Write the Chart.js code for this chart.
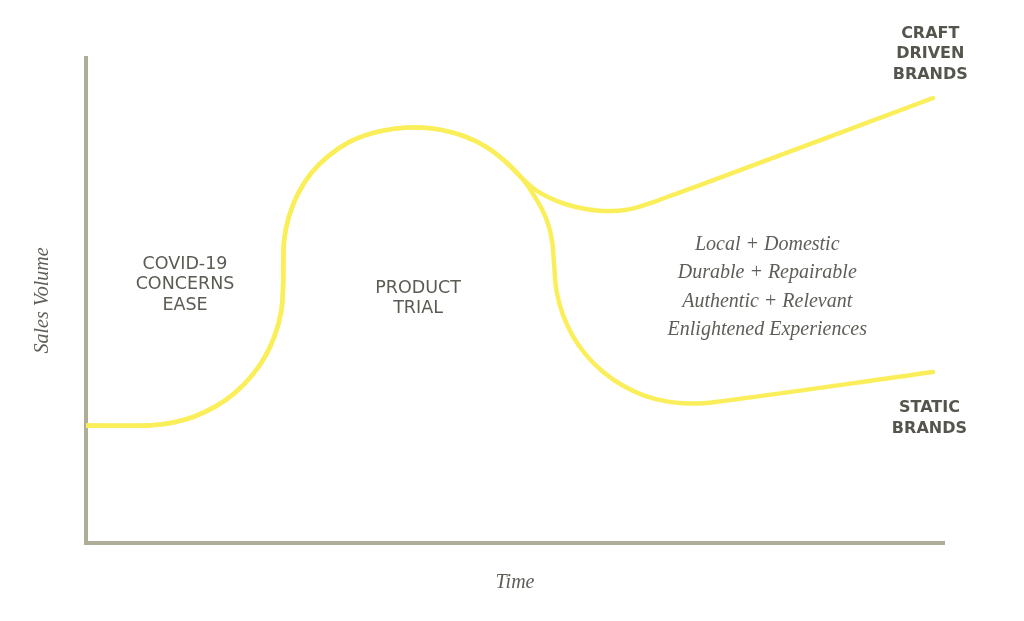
<!DOCTYPE html>
<html><head><meta charset="utf-8">
<script src="https://cdn.jsdelivr.net/npm/chart.js@4.4.1/dist/chart.umd.min.js"></script>
<style>html,body{margin:0;padding:0;background:#fff}#wrap{width:1024px;height:621px;position:relative}</style>
</head><body><div id="wrap"><canvas id="c"></canvas></div>
<script>
// Shared path: flat baseline, COVID-19 concerns ease, product-trial peak
const sharedTime   = [0, 7.11, 9.86, 12.53, 15.03, 17.30, 19.25, 20.84, 22.00, 22.73, 22.96, 23.0, 23.09, 23.65, 24.69, 26.22, 28.25, 30.62, 33.28, 36.03, 38.81, 41.56, 44.21, 46.68, 48.85, 50.77];
const sharedVolume = [24.23, 24.23, 24.76, 26.02, 28.08, 30.89, 34.35, 38.35, 42.78, 47.51, 52.37, 57.53, 62.43, 67.30, 71.96, 76.21, 79.79, 82.62, 84.45, 85.44, 85.67, 85.13, 83.77, 81.63, 78.70, 75.28];
// Craft driven brands branch
const craftTime    = [52.33, 54.08, 55.83, 57.93, 59.56, 61.07, 62.82, 64.57, 66.32, 67.72, 71.56, 98.72];
const craftVolume  = [72.89, 71.13, 69.90, 68.97, 68.56, 68.45, 68.66, 69.38, 70.41, 71.34, 73.81, 91.75];
// Static brands branch
const staticTime   = [52.33, 53.60, 54.31, 54.55, 54.85, 55.56, 56.72, 58.30, 60.24, 62.50, 65.00, 67.66, 70.40, 72.96, 98.72];
const staticVolume = [71.34, 67.05, 62.35, 57.53, 51.86, 47.15, 42.72, 38.74, 35.30, 32.52, 30.45, 29.20, 28.76, 28.97, 35.26];

// Text
const phaseCovid   = ['COVID-19', 'CONCERNS', 'EASE'];
const phaseTrial   = ['PRODUCT', 'TRIAL'];
const craftLabel   = ['CRAFT', 'DRIVEN', 'BRANDS'];
const staticLabel  = ['STATIC', 'BRANDS'];
const craftTraits  = ['Local + Domestic', 'Durable + Repairable', 'Authentic + Relevant', 'Enlightened Experiences'];
const xTitle = 'Time';
const yTitle = 'Sales Volume';

const toPoints = (xs, ys) => xs.map((v, i) => ({x: v, y: ys[i]}));
const craftData  = toPoints(sharedTime.concat(craftTime),  sharedVolume.concat(craftVolume));
const staticData = toPoints(sharedTime.concat(staticTime), sharedVolume.concat(staticVolume));

const YELLOW = '#faef5a';
const AXIS = '#afac97';
const SANS = "'DejaVu Sans', sans-serif";

const labelPlugin = {
  id: 'textLabels',
  afterDraw(chart, args, opts) {
    const {ctx, scales: {x, y}} = chart;
    ctx.save();
    ctx.textAlign = 'center';
    ctx.textBaseline = 'alphabetic';
    opts.blocks.forEach(b => {
      ctx.font = b.font;
      ctx.fillStyle = b.color;
      const px = x.getPixelForValue(b.at[0]);
      const py = y.getPixelForValue(b.at[1]);
      b.lines.forEach((t, i) => ctx.fillText(t, px, py + i * b.step));
    });
    ctx.restore();
  }
};

const lineStyle = {borderColor: YELLOW, borderWidth: 4.5, tension: 0.4, pointRadius: 0, fill: false, borderCapStyle: 'round', borderJoinStyle: 'round'};

new Chart(document.getElementById('c'), {
  type: 'line',
  data: {
    datasets: [
      Object.assign({label: 'Static brands', data: staticData}, lineStyle),
      Object.assign({label: 'Craft driven brands', data: craftData}, lineStyle)
    ]
  },
  options: {
    responsive: true,
    maintainAspectRatio: false,
    animation: false,
    events: [],
    layout: {padding: {top: 58, right: 80, left: 0, bottom: 0}},
    plugins: {
      legend: {display: false},
      tooltip: {enabled: false},
      textLabels: {
        blocks: [
          {lines: phaseCovid,  at: [11.54, 56.5], step: 20.5, font: `17.5px ${SANS}`, color: '#5b5b53'},
          {lines: phaseTrial,  at: [38.7, 51.5], step: 20, font: `17.5px ${SANS}`, color: '#5b5b53'},
          {lines: craftLabel,  at: [98.4, 104.1], step: 20.2, font: `bold 16px ${SANS}`, color: '#55554d'},
          {lines: staticLabel, at: [98.3, 27.0], step: 21, font: `bold 16px ${SANS}`, color: '#55554d'},
          {lines: craftTraits, at: [79.4, 60.4], step: 28.4, font: `italic 20px 'Liberation Serif', serif`, color: '#5e5e58'}
        ]
      }
    },
    scales: {
      x: {
        type: 'linear', min: 0, max: 100,
        grid: {display: true, color: 'rgba(0,0,0,0)', drawTicks: false},
        border: {display: true, color: AXIS, width: 4},
        ticks: {display: false},
        title: {display: true, text: xTitle, color: '#5e5e58', padding: {top: 0, bottom: 26},
                font: {family: "'Liberation Serif', serif", style: 'italic', size: 20}},
        afterFit: s => { s.height = 78; }
      },
      y: {
        type: 'linear', min: 0, max: 100,
        grid: {display: true, color: 'rgba(0,0,0,0)', drawTicks: false},
        border: {display: true, color: AXIS, width: 4},
        ticks: {display: false},
        title: {display: true, text: yTitle, color: '#5e5e58', padding: {top: 31, bottom: 0},
                font: {family: "'Liberation Serif', serif", style: 'italic', size: 20}},
        afterFit: s => { s.width = 86; }
      }
    }
  },
  plugins: [labelPlugin]
});
</script>
</body></html>
